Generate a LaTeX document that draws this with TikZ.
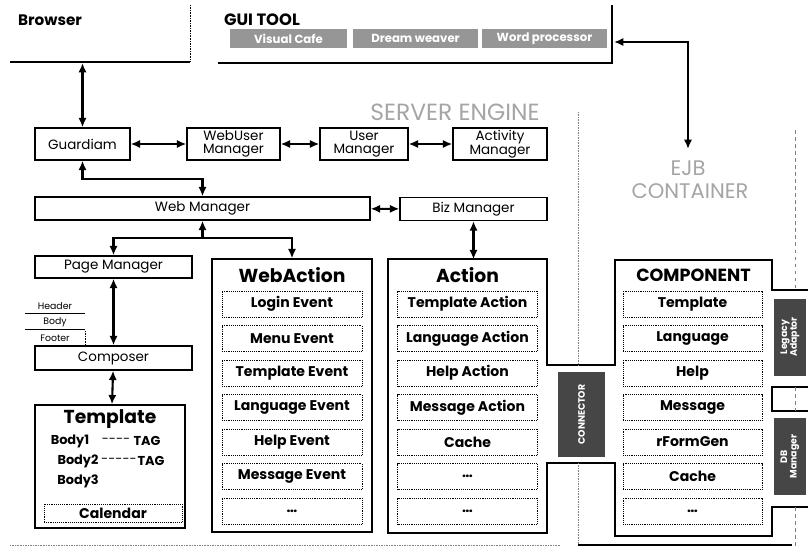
\documentclass[tikz,border=0pt]{standalone}
\usepackage{fontspec}
\setmainfont{Poppins}
\usetikzlibrary{arrows.meta,positioning,calc}
\newcommand{\fsz}[1]{\fontsize{#1}{#1}\selectfont}
\definecolor{BtnGray}{RGB}{150,150,150}
\definecolor{DarkBox}{RGB}{70,70,70}
\definecolor{GhostGray}{RGB}{165,165,165}

\begin{document}
\begin{tikzpicture}[x=0.03cm,y=-0.03cm,
  mgr/.style={draw,line width=1.2pt,align=center,inner sep=0pt,
              minimum height=0.96cm,font=\fsz{11.5}},
  bar/.style={draw,line width=1.2pt,inner sep=0pt,font=\fsz{11.5}},
  sub/.style={draw,densely dotted,line width=0.6pt,minimum width=4.2cm,
              minimum height=0.78cm,inner sep=0pt,font=\bfseries\fsz{12}},
  ttl/.style={font=\bfseries\fsz{16}},
  btn/.style={fill=BtnGray,text=white,minimum height=0.57cm,inner sep=0pt,
              font=\bfseries\fsz{10}},
  dark/.style={fill=DarkBox,text=white,inner sep=0pt,align=center,
               font=\bfseries\fsz{8}},
  arr/.style={{Latex[length=8pt,width=7pt]}-{Latex[length=8pt,width=7pt]},
              line width=1.8pt},
  edge/.style={line width=1.2pt},
]
\useasboundingbox (0,0) rectangle (808,551);

% browser and gui tool
\node[font=\bfseries\fsz{13}] (browser) at (50,20) {Browser};
\draw[edge] (10,62) -- (190,62);
\draw[densely dotted] (190,5) -- (190,62);
\node[font=\bfseries\fsz{14}] (gui) at (262,20) {GUI TOOL};
\draw[edge] (218,63) -- (612,63) -- (612,5);
\node[btn,minimum width=3.51cm] (vcafe) at (288.5,38.5) {Visual Cafe};
\node[btn,minimum width=3.75cm] (dweaver) at (415.5,38.5) {Dream weaver};
\node[btn,minimum width=3.75cm] (wproc) at (544.5,38.5) {Word processor};

% server engine
\node[text=GhostGray,font=\fsz{20}] (server) at (455,112) {SERVER ENGINE};
\node[mgr,minimum width=2.85cm] (guard) at (82.5,144) {Guardiam};
\node[mgr,minimum width=2.79cm] (webuser) at (233.5,144) {WebUser\\Manager};
\node[mgr,minimum width=2.64cm] (user) at (364,144) {User\\Manager};
\node[mgr,minimum width=2.82cm] (activity) at (500,144) {Activity\\Manager};
\node[bar,minimum width=10.05cm,minimum height=0.69cm] (webmgr) at (202.5,208.5) {Web Manager};
\node[bar,minimum width=4.41cm,minimum height=0.69cm] (bizmgr) at (473.5,209) {Biz Manager};

\coordinate (brwbot) at (82.5,63);
\draw[arr] (brwbot) -- (guard);
\draw[arr] (guard) -- (webuser);
\draw[arr] (webuser) -- (user);
\draw[arr] (user) -- (activity);
\draw[arr] (guard.south) -- ++(0,18) -| (webmgr.north);
\draw[arr] (webmgr) -- (bizmgr);

% ejb container
\node[text=GhostGray,font=\fsz{18}] (ejb) at (688,168) {EJB};
\node[text=GhostGray,font=\fsz{18}] (container) at (690,191) {CONTAINER};
\coordinate (guiedge) at (614,42);
\coordinate (ejbtip) at (688,149);
\draw[arr] (guiedge) -| (ejbtip);

% page side
\node[bar,minimum width=4.71cm,minimum height=0.66cm] (pagemgr) at (113.5,267) {Page Manager};
\node[bar,minimum width=4.71cm,minimum height=0.72cm] (composer) at (113.5,358) {Composer};
\node[draw,line width=1.2pt,minimum width=4.5cm,minimum height=3.69cm] (template) at (110,466.5) {};
\node[ttl] (tpltitle) at (110,419) {Template};
\node[font=\bfseries\fsz{11}] (body1) at (70,441) {Body1};
\node[font=\fsz{11}] (dash1) at (116,441) {-{}-{}-{}-};
\node[font=\bfseries\fsz{11}] (tag1) at (147,441) {TAG};
\node[font=\bfseries\fsz{11}] (body2) at (78,461) {Body2};
\node[font=\fsz{11}] (dash2) at (119,461) {-{}-{}-{}-{}-};
\node[font=\bfseries\fsz{11}] (tag2) at (151,461) {TAG};
\node[font=\bfseries\fsz{11}] (body3) at (78,481) {Body3};
\node[sub,minimum width=4.14cm,minimum height=0.54cm] (calendar) at (113,513) {Calendar};
\node[font=\fsz{8}] (header) at (55,306) {Header};
\node[font=\fsz{8}] (bodylbl) at (55,322) {Body};
\node[font=\fsz{8}] (footer) at (55,338) {Footer};
\draw (25,313) -- (85,313);
\draw (25,329) -- (85,329);
\draw[densely dotted] (85,331) -- (85,346);
\draw[arr] (pagemgr) -- (composer);
\draw[arr] (composer) -- (template);

% web action
\node[draw,line width=1.2pt,minimum width=4.8cm,minimum height=8.19cm] (webact) at (292,395.5) {};
\node[ttl] (watitle) at (292,275) {WebAction};
\foreach \t [count=\i from 0] in {Login Event,Menu Event,Template Event,Language Event,Help Event,Message Event,\ldots}
  \node[sub] (wa\i) at (292,304+34.5*\i) {\t};
\coordinate (split) at (202.5,238);
\draw[arr] (pagemgr.north) |- (split) -| (webact.north);
\draw[{Latex[length=8pt,width=7pt]}-,line width=1.8pt] (webmgr) -- (split);

% action and component
\node[minimum width=4.77cm,minimum height=8.19cm] (action) at (467.5,396) {};
\node[ttl] (actitle) at (467.5,275) {Action};
\foreach \t [count=\i from 0] in {Template Action,Language Action,Help Action,Message Action,Cache,\ldots,\ldots}
  \node[sub] (ac\i) at (467.5,304+34.5*\i) {\t};
\node[minimum width=4.71cm,minimum height=8.28cm] (comp) at (693.5,398) {};
\node[ttl,font=\bfseries\fsz{15}] (cptitle) at (693.5,275) {COMPONENT};
\foreach \t [count=\i from 0] in {Template,Language,Help,Message,rFormGen,Cache,\ldots}
  \node[sub,minimum width=4.17cm] (cp\i) at (692.5,304+34.5*\i) {\t};
\draw[edge] (808,290) -- (772,290) -- (772,260) -- (615,260) -- (615,365)
  -- (547,365) -- (547,259) -- (388,259) -- (388,533) -- (547,533)
  -- (547,463) -- (615,463) -- (615,536) -- (772,536) -- (772,507) -- (808,507);
\draw[edge] (808,387) -- (772,387) -- (772,411) -- (808,411);
\draw[arr] (bizmgr.south) -- (bizmgr.south |- action.north);
\node[dark,minimum width=1.41cm,minimum height=2.55cm] (connector) at (581.5,414.5)
  {\rotatebox{90}{CONNECTOR}};
\node[dark,minimum width=0.96cm,minimum height=2.31cm] (legacy) at (790,337)
  {\rotatebox{90}{\begin{tabular}{@{}c@{}}Legacy\\Adaptor\end{tabular}}};
\node[dark,minimum width=0.96cm,minimum height=2.31cm] (dbmgr) at (790,456.5)
  {\rotatebox{90}{\begin{tabular}{@{}c@{}}DB\\Manager\end{tabular}}};

% boundaries
\draw[densely dotted,gray] (578,112) -- (578,365);
\draw[densely dotted,gray] (578,463) -- (578,545);
\draw[densely dotted,gray] (10,545) -- (560,545);
\draw[dashed,gray] (795,130) -- (795,290);
\draw[dashed,gray] (795,387) -- (795,411);
\draw[dashed,gray] (795,507) -- (795,548);
\draw[line width=1.6pt] (578,545) -- (792,545);
\end{tikzpicture}
\end{document}
